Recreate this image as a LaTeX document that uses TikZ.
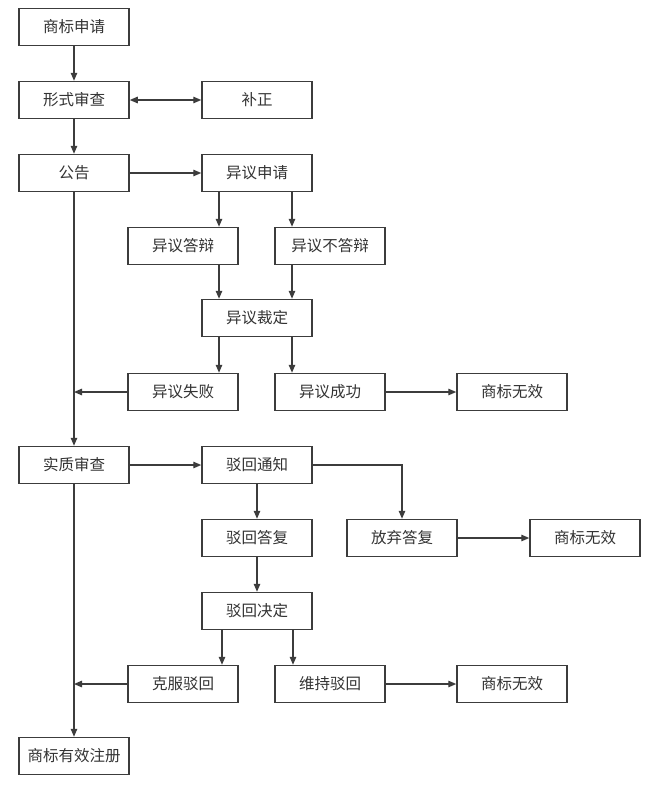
\documentclass[tikz,border=0pt]{standalone}
\usepackage{fontspec}
\newfontfamily\cjk{Noto Sans CJK SC}
\usetikzlibrary{arrows.meta}
\definecolor{edge}{HTML}{3C3C3C}
\definecolor{txt}{HTML}{333333}
\begin{document}
\begin{tikzpicture}[x=1pt,y=-1pt,
  box/.style={draw=edge,line width=1.5pt,minimum width=110pt,minimum height=37pt,inner sep=0pt,
    font=\cjk\fontsize{15.5}{18}\selectfont,text=txt,fill=white},
  arr/.style={draw=edge,line width=1.3pt,-{Triangle[length=8pt,width=6.5pt]}},
  darr/.style={draw=edge,line width=1.3pt,{Triangle[length=8pt,width=6.5pt]}-{Triangle[length=8pt,width=6.5pt]}},
  ln/.style={draw=edge,line width=1.3pt}]
\fill[white] (0,0) rectangle (656,800);
\useasboundingbox (0,0) rectangle (656,800);
\node[box] (sbsq) at (74,27) {商标申请};
\node[box] (xssc) at (74,100) {形式审查};
\node[box] (bz) at (257,100) {补正};
\node[box] (gg) at (74,173) {公告};
\node[box] (yysq) at (257,173) {异议申请};
\node[box] (yydb) at (183,246) {异议答辩};
\node[box] (yybdb) at (330,246) {异议不答辩};
\node[box] (yycd) at (257,318) {异议裁定};
\node[box] (yysb) at (183,392) {异议失败};
\node[box] (yycg) at (330,392) {异议成功};
\node[box] (wx1) at (512,392) {商标无效};
\node[box] (szsc) at (74,465) {实质审查};
\node[box] (bhtz) at (257,465) {驳回通知};
\node[box] (bhdf) at (257,538) {驳回答复};
\node[box] (fqdf) at (402,538) {放弃答复};
\node[box] (wx2) at (585,538) {商标无效};
\node[box] (bhjd) at (257,611) {驳回决定};
\node[box] (kfbh) at (183,684) {克服驳回};
\node[box] (wcbh) at (330,684) {维持驳回};
\node[box] (wx3) at (512,684) {商标无效};
\node[box] (yxzc) at (74,756) {商标有效注册};
% main column
\draw[arr] (sbsq) -- (xssc);
\draw[darr] (xssc) -- (bz);
\draw[arr] (xssc) -- (gg);
\draw[arr] (gg) -- (yysq);
\draw[arr] (gg.south) -- (szsc.north);
\draw[arr] (szsc.south) -- (yxzc.north);
% opposition
\draw[arr] ([xshift=-38pt]yysq.south) -- ([xshift=-38pt]yysq.south |- yydb.north);
\draw[arr] ([xshift=35pt]yysq.south) -- ([xshift=35pt]yysq.south |- yybdb.north);
\draw[arr] ([xshift=-38pt]yysq.south |- yydb.south) -- ([xshift=-38pt]yycd.north);
\draw[arr] ([xshift=35pt]yysq.south |- yybdb.south) -- ([xshift=35pt]yycd.north);
\draw[arr] ([xshift=-38pt]yycd.south) -- ([xshift=-38pt]yycd.south |- yysb.north);
\draw[arr] ([xshift=35pt]yycd.south) -- ([xshift=35pt]yycd.south |- yycg.north);
\draw[arr] (yysb.west) -- (yysb.west -| gg.south);
\draw[arr] (yycg) -- (wx1);
% substantive examination
\draw[arr] (szsc) -- (bhtz);
\draw[arr] (bhtz) -- (bhdf);
\draw[arr] (bhtz.east) -| (fqdf.north);
\draw[arr] (fqdf) -- (wx2);
\draw[arr] (bhdf) -- (bhjd);
\draw[arr] ([xshift=-35pt]bhjd.south) -- ([xshift=-35pt]bhjd.south |- kfbh.north);
\draw[arr] ([xshift=36pt]bhjd.south) -- ([xshift=36pt]bhjd.south |- wcbh.north);
\draw[arr] (kfbh.west) -- (kfbh.west -| szsc.south);
\draw[arr] (wcbh) -- (wx3);
\end{tikzpicture}
\end{document}
